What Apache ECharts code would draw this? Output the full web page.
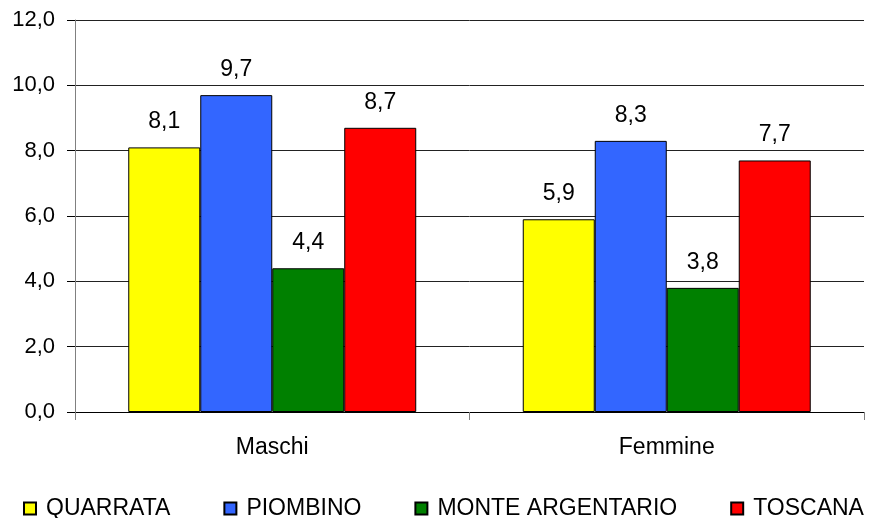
<!DOCTYPE html>
<html>
<head>
<meta charset="utf-8">
<script src="https://cdn.jsdelivr.net/npm/echarts@6/dist/echarts.min.js"></script>
<style>html,body{margin:0;padding:0;background:#fff}#c{width:873px;height:518px}</style>
</head>
<body>
<div id="c"></div>
<script>
const categories = ['Maschi', 'Femmine'];
const seriesNames = ['QUARRATA', 'PIOMBINO', 'MONTE ARGENTARIO', 'TOSCANA'];
const quarrata = [8.1, 5.9];
const piombino = [9.7, 8.3];
const monteArgentario = [4.4, 3.8];
const toscana = [8.7, 7.7];
const colors = ['#FFFF00', '#3366FF', '#008000', '#FF0000'];
const yTicks = [0, 2, 4, 6, 8, 10, 12];

const fmt = v => Number(v).toFixed(1).replace('.', ',');
const FONT = '"Liberation Sans", Arial, sans-serif';
const dataSets = [quarrata, piombino, monteArgentario, toscana];

const chart = echarts.init(document.getElementById('c'), null, {renderer: 'canvas'});
chart.setOption({
  animation: false,
  textStyle: {fontFamily: FONT},
  grid: {left: 75, right: 9, top: 20, bottom: 106, containLabel: false},
  legend: {
    left: 18, top: 492,
    itemWidth: 12, itemHeight: 12, itemGap: 53,
    icon: 'rect',
    textStyle: {fontFamily: FONT, fontSize: 23, color: '#000', padding: [0, 0, 0, 5]},
    data: seriesNames
  },
  xAxis: {
    type: 'category',
    data: categories,
    axisLine: {lineStyle: {color: '#000', width: 1}},
    axisTick: {show: true, length: 8, lineStyle: {color: '#808080'}},
    axisLabel: {fontFamily: FONT, fontSize: 23, color: '#000', margin: 24}
  },
  yAxis: {
    type: 'value',
    min: yTicks[0], max: yTicks[yTicks.length - 1], interval: 2,
    axisLine: {show: true, lineStyle: {color: '#808080', width: 1}},
    axisTick: {show: true, length: 8, lineStyle: {color: '#000'}},
    splitLine: {show: true, lineStyle: {color: '#222', width: 1}},
    axisLabel: {fontFamily: FONT, fontSize: 22, color: '#000', margin: 20, formatter: fmt}
  },
  series: seriesNames.map((n, i) => ({
    name: n,
    type: 'bar',
    data: dataSets[i],
    barGap: '0%',
    barCategoryGap: '27%',
    itemStyle: {color: colors[i], borderColor: '#000', borderWidth: 1},
    label: {show: true, position: 'top', distance: 14, fontFamily: FONT, fontSize: 23, color: '#000', formatter: p => fmt(p.value)}
  }))
});
</script>
</body>
</html>
